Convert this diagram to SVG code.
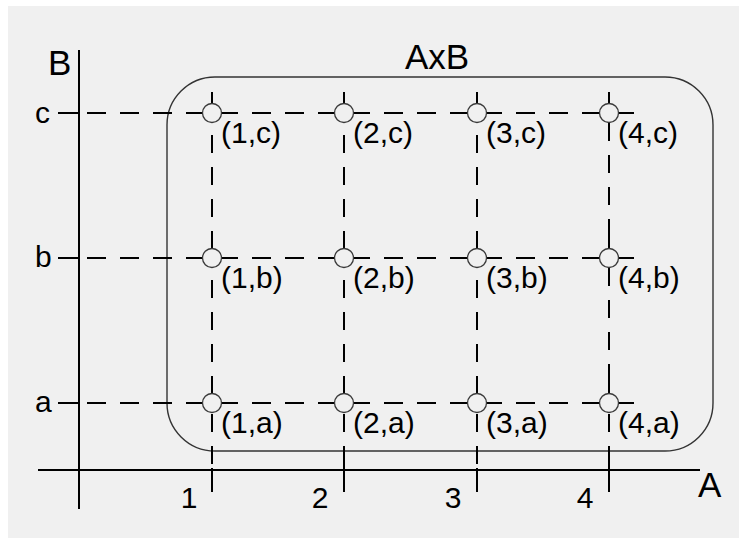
<svg xmlns="http://www.w3.org/2000/svg" width="739" height="538" viewBox="0 0 739 538">
  <style>
    .ax { stroke: #000; stroke-width: 2; fill: none; }
    .dash { stroke: #000; stroke-width: 2; fill: none; stroke-dasharray: 19 14; }
    .vdash { stroke: #000; stroke-width: 2; fill: none; stroke-dasharray: 18 14; }
    .pt { fill: #f0f0f0; stroke: #3a3a3a; stroke-width: 1.3; }
    .big { font-family: "Liberation Sans", Arial, sans-serif; font-size: 35px; fill: #000; }
    .lbl { font-family: "Liberation Sans", Arial, sans-serif; font-size: 30px; fill: #000; }
    .box { fill: none; stroke: #333; stroke-width: 1.4; }
  </style>
  <rect x="8" y="6" width="731" height="532" fill="#f0f0f0"/>

  <g id="axes">
    <line class="ax" x1="38" y1="470" x2="700" y2="470"/>
    <line class="ax" x1="79" y1="50" x2="79" y2="509"/>
    <text class="big" x="48" y="75">B</text>
    <text class="big" x="698" y="497">A</text>
    <text class="lbl" x="35" y="123">c</text>
    <text class="lbl" x="35" y="267">b</text>
    <text class="lbl" x="35" y="412">a</text>
    <text class="lbl" x="189" y="508" text-anchor="middle">1</text>
    <text class="lbl" x="320" y="508" text-anchor="middle">2</text>
    <text class="lbl" x="453" y="508" text-anchor="middle">3</text>
    <text class="lbl" x="585" y="508" text-anchor="middle">4</text>
  </g>

  <g id="set-AxB">
    <rect class="box" x="167" y="77" width="546" height="374" rx="48" ry="48"/>
    <text class="big" x="405" y="69">AxB</text>
  </g>

  <g id="connectors">
    <!-- row ticks and dashed rows -->
    <line class="ax" x1="58" y1="113" x2="79" y2="113"/>
    <line class="ax" x1="58" y1="258" x2="79" y2="258"/>
    <line class="ax" x1="58" y1="403" x2="79" y2="403"/>
    <line class="dash" x1="87" y1="113" x2="605" y2="113"/>
    <line class="dash" x1="87" y1="258" x2="605" y2="258"/>
    <line class="dash" x1="87" y1="403" x2="605" y2="403"/>
    <!-- column dashed segments -->
    <line class="vdash" x1="212" y1="135" x2="212" y2="240"/>
    <line class="vdash" x1="212" y1="280" x2="212" y2="385"/>
    <line class="vdash" x1="212" y1="414" x2="212" y2="464"/>
    <line class="vdash" x1="344" y1="135" x2="344" y2="240"/>
    <line class="vdash" x1="344" y1="280" x2="344" y2="385"/>
    <line class="vdash" x1="344" y1="414" x2="344" y2="464"/>
    <line class="vdash" x1="477" y1="135" x2="477" y2="240"/>
    <line class="vdash" x1="477" y1="280" x2="477" y2="385"/>
    <line class="vdash" x1="477" y1="414" x2="477" y2="464"/>
    <line class="vdash" x1="609" y1="123" x2="609" y2="240"/>
    <line class="vdash" x1="609" y1="268" x2="609" y2="385"/>
    <line class="vdash" x1="609" y1="414" x2="609" y2="464"/>
    <!-- column ticks on A axis -->
    <line class="ax" x1="212" y1="468" x2="212" y2="492"/>
    <line class="ax" x1="344" y1="460" x2="344" y2="492"/>
    <line class="ax" x1="477" y1="468" x2="477" y2="492"/>
    <line class="ax" x1="609" y1="460" x2="609" y2="492"/>
  </g>

  <defs>
    <g id="cross">
      <line class="ax" x1="-25" y1="0" x2="25" y2="0"/>
      <line class="ax" x1="0" y1="-21" x2="0" y2="0"/>
      <circle class="pt" cx="0" cy="0" r="9.5"/>
    </g>
  </defs>

  <g id="p1c"><use href="#cross" x="212" y="113"/><text class="lbl" x="221" y="143">(1,c)</text></g>
  <g id="p2c"><use href="#cross" x="344" y="113"/><text class="lbl" x="353" y="143">(2,c)</text></g>
  <g id="p3c"><use href="#cross" x="477" y="113"/><text class="lbl" x="486" y="143">(3,c)</text></g>
  <g id="p4c"><use href="#cross" x="609" y="113"/><text class="lbl" x="618" y="143">(4,c)</text></g>

  <g id="p1b"><use href="#cross" x="212" y="258"/><text class="lbl" x="221" y="288">(1,b)</text></g>
  <g id="p2b"><use href="#cross" x="344" y="258"/><text class="lbl" x="353" y="288">(2,b)</text></g>
  <g id="p3b"><use href="#cross" x="477" y="258"/><text class="lbl" x="486" y="288">(3,b)</text></g>
  <g id="p4b"><use href="#cross" x="609" y="258"/><text class="lbl" x="618" y="288">(4,b)</text></g>

  <g id="p1a"><use href="#cross" x="212" y="403"/><text class="lbl" x="221" y="433">(1,a)</text></g>
  <g id="p2a"><use href="#cross" x="344" y="403"/><text class="lbl" x="353" y="433">(2,a)</text></g>
  <g id="p3a"><use href="#cross" x="477" y="403"/><text class="lbl" x="486" y="433">(3,a)</text></g>
  <g id="p4a"><use href="#cross" x="609" y="403"/><text class="lbl" x="618" y="433">(4,a)</text></g>
</svg>
